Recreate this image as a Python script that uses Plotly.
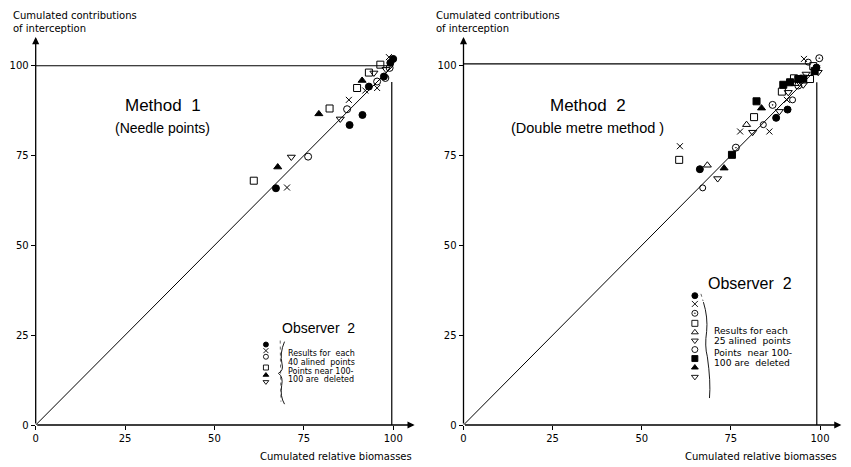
import plotly.graph_objects as go

# ---------------- data ----------------
tick_vals = [0, 25, 50, 75, 100]
tick_text = ["0", "25", "50", "75", "100"]

# Method 1 (needle points), observer 2
m1_filled_circle_x = [67.2, 87.8, 91.4, 93.2, 97.4, 99.2, 100.0]
m1_filled_circle_y = [65.9, 83.5, 86.3, 94.2, 97.0, 100.8, 101.9]
m1_cross_x = [70.3, 87.6, 92.2, 95.5, 98.8]
m1_cross_y = [66.1, 90.5, 93.1, 93.8, 102.4]
m1_open_circle_x = [76.2, 87.1, 95.5, 97.8, 99.0]
m1_open_circle_y = [74.7, 87.9, 95.6, 96.6, 99.4]
m1_square_x = [61.0, 82.2, 89.9, 93.2, 96.4]
m1_square_y = [68.0, 88.1, 93.8, 98.1, 100.3]
m1_filled_tri_x = [67.7, 79.2, 91.3]
m1_filled_tri_y = [71.8, 86.6, 95.9]
m1_down_tri_x = [71.5, 85.2, 94.6, 98.0]
m1_down_tri_y = [74.6, 85.2, 98.0, 99.0]

# Method 2 (double metre method), observer 2
m2_filled_circle_x = [66.3, 87.7, 90.9, 99.0]
m2_filled_circle_y = [71.2, 85.5, 87.8, 99.5]
m2_cross_x = [60.7, 77.6, 85.8, 90.7, 95.5]
m2_cross_y = [77.6, 81.7, 81.7, 90.5, 101.9]
m2_dot_circle_x = [76.4, 86.7, 93.9, 99.8]
m2_dot_circle_y = [77.2, 89.1, 94.5, 102.1]
m2_square_x = [60.5, 81.5, 89.3, 92.7, 97.2, 98.1]
m2_square_y = [73.8, 85.7, 92.8, 96.5, 96.3, 99.9]
m2_up_tri_x = [68.4, 79.4, 93.0]
m2_up_tri_y = [72.3, 83.6, 95.0]
m2_down_tri_a_x = [81.1, 88.6, 91.1, 95.3]
m2_down_tri_a_y = [81.5, 87.3, 92.6, 94.7]
m2_open_circle_x = [67.1, 84.1, 92.3, 96.7]
m2_open_circle_y = [66.0, 83.6, 90.5, 101.0]
m2_filled_square_x = [75.3, 82.2, 89.7, 91.6, 93.9, 95.3, 98.5]
m2_filled_square_y = [75.2, 90.1, 94.7, 95.4, 96.3, 96.4, 98.5]
m2_filled_tri_x = [73.1, 83.6]
m2_filled_tri_y = [71.5, 88.2]
m2_down_tri_b_x = [71.3, 96.1, 99.5]
m2_down_tri_b_y = [68.6, 97.7, 98.2]

# 1:1 reference line
diag_x = [0, 100]
diag_y = [0, 100]

# key (legend) symbols of each panel
key1_symbols = ["circle", "x-thin-open", "circle-open", "square-open",
                "triangle-up", "triangle-down-open"]
key2_symbols = ["circle", "x-thin-open", "circle-open-dot", "square-open",
                "triangle-up-open", "triangle-down-open", "circle-open", "square",
                "triangle-up", "triangle-down-open"]
key1_lines = ["Results for  each", "40 alined  points", "Points near 100-", "100 are  deleted"]
key2_lines = ["Results for each", "25 alined  points", "Points  near 100-", "100 are  deleted"]

FONT = "DejaVu Sans"
TFONT = "Liberation Sans"
INK = "black"

fig = go.Figure()


def add_series(xs, ys, symbol, ax, size=7):
    fig.add_trace(go.Scatter(
        x=xs, y=ys, mode="markers", xaxis=ax[0], yaxis=ax[1],
        marker=dict(symbol=symbol, size=size, color=INK,
                    line=dict(color=INK, width=1)),
        showlegend=False, hoverinfo="skip"))


A1 = ("x", "y")
A2 = ("x2", "y2")

for A in (A1, A2):
    fig.add_trace(go.Scatter(x=diag_x, y=diag_y, mode="lines", xaxis=A[0], yaxis=A[1],
                             line=dict(color=INK, width=1), showlegend=False,
                             hoverinfo="skip"))

add_series(m1_filled_circle_x, m1_filled_circle_y, "circle", A1)
add_series(m1_cross_x, m1_cross_y, "x-thin-open", A1, 6)
add_series(m1_open_circle_x, m1_open_circle_y, "circle-open", A1)
add_series(m1_square_x, m1_square_y, "square-open", A1)
add_series(m1_filled_tri_x, m1_filled_tri_y, "triangle-up", A1)
add_series(m1_down_tri_x, m1_down_tri_y, "triangle-down-open", A1)

add_series(m2_filled_circle_x, m2_filled_circle_y, "circle", A2)
add_series(m2_cross_x, m2_cross_y, "x-thin-open", A2, 6)
add_series(m2_dot_circle_x, m2_dot_circle_y, "circle-open-dot", A2)
add_series(m2_square_x, m2_square_y, "square-open", A2)
add_series(m2_up_tri_x, m2_up_tri_y, "triangle-up-open", A2)
add_series(m2_down_tri_a_x, m2_down_tri_a_y, "triangle-down-open", A2)
add_series(m2_open_circle_x, m2_open_circle_y, "circle-open", A2, 6)
add_series(m2_filled_square_x, m2_filled_square_y, "square", A2)
add_series(m2_filled_tri_x, m2_filled_tri_y, "triangle-up", A2)
add_series(m2_down_tri_b_x, m2_down_tri_b_y, "triangle-down-open", A2)

# key markers (stacked column)
key1_y = [22.4, 20.7, 19.0, 16.0, 13.9, 12.0]
fig.add_trace(go.Scatter(x=[64.4] * len(key1_symbols), y=key1_y, mode="markers",
                         xaxis="x", yaxis="y",
                         marker=dict(symbol=key1_symbols, size=5, color=INK,
                                     line=dict(color=INK, width=0.9)),
                         showlegend=False, hoverinfo="skip"))
key2_y = [36.0, 33.7, 31.1, 28.3, 25.8, 23.5, 21.0, 18.5, 16.0, 13.4]
fig.add_trace(go.Scatter(x=[64.9] * len(key2_symbols), y=key2_y, mode="markers",
                         xaxis="x2", yaxis="y2",
                         marker=dict(symbol=key2_symbols, size=6, color=INK,
                                     line=dict(color=INK, width=0.9)),
                         showlegend=False, hoverinfo="skip"))

annotations = []
shapes = []


def txt(x, y, s, size, xref, yref, xanchor="center", yanchor="middle", family=FONT):
    annotations.append(dict(x=x, y=y, xref=xref, yref=yref, text=s, showarrow=False,
                            xanchor=xanchor, yanchor=yanchor, borderpad=0,
                            font=dict(family=family, size=size, color=INK)))


for xr, yr in (("x", "y"), ("x2", "y2")):
    # axis arrows
    annotations.append(dict(x=106, y=0, ax=0, ay=0, xref=xr, yref=yr, axref=xr, ayref=yr,
                            showarrow=True, arrowhead=2, arrowsize=1.1, arrowwidth=1.3,
                            arrowcolor=INK, text=""))
    annotations.append(dict(x=0, y=108, ax=0, ay=0, xref=xr, yref=yr, axref=xr, ayref=yr,
                            showarrow=True, arrowhead=2, arrowsize=1.1, arrowwidth=1.3,
                            arrowcolor=INK, text=""))

# frame lines at 100
shapes.append(dict(type="line", xref="x", yref="y", x0=0, y0=100, x1=100, y1=100,
                   line=dict(color=INK, width=1.2)))
shapes.append(dict(type="line", xref="x", yref="y", x0=99.6, y0=95.5, x1=99.6, y1=0,
                   line=dict(color=INK, width=1.2)))
shapes.append(dict(type="line", xref="x2", yref="y2", x0=0, y0=100.5, x1=97, y1=100.5,
                   line=dict(color=INK, width=1.2)))
shapes.append(dict(type="line", xref="x2", yref="y2", x0=99.1, y0=95.4, x1=99.1, y1=0,
                   line=dict(color=INK, width=1.2)))

# titles
txt(35.5, 88.9, "Method  1", 17, "x", "y", family=TFONT)
txt(35.5, 82.6, "(Needle points)", 14, "x", "y", family=TFONT)
txt(34.9, 88.9, "Method  2", 17, "x2", "y2", family=TFONT)
txt(34.9, 82.8, "(Double metre method )", 14.5, "x2", "y2", family=TFONT)

# axis titles
txt(11.7 / 851, 1 - 15 / 467, "Cumulated contributions", 10, "paper", "paper", "left")
txt(11.7 / 851, 1 - 28 / 467, "of interception", 10, "paper", "paper", "left")
txt(435 / 851, 1 - 15 / 467, "Cumulated contributions", 10, "paper", "paper", "left")
txt(435 / 851, 1 - 28 / 467, "of interception", 10, "paper", "paper", "left")
txt(413.3 / 851, 1 - 456.7 / 467, "Cumulated relative biomasses", 10, "paper", "paper", "right")
txt(838 / 851, 1 - 456.7 / 467, "Cumulated relative biomasses", 10, "paper", "paper", "right")

# key, method 1
txt(79.0, 26.9, "Observer  2", 14, "x", "y", family=TFONT)
for s, ly in zip(key1_lines, [19.9, 17.5, 15.0, 12.6]):
    txt(70.4, ly, s, 8, "x", "y", "left")
shapes.append(dict(type="path", xref="x", yref="y",
                   path="M 69.6 23.2 Q 68.2 20 68.9 17 Q 69.4 15.2 67.9 14.4 "
                        "Q 69.3 13.4 68.8 11 Q 68.3 8 69.6 5.8",
                   line=dict(color=INK, width=0.9)))
shapes.append(dict(type="line", xref="x", yref="y", x0=68.4, y0=23.5, x1=68.6, y1=6.5,
                   line=dict(color=INK, width=0.6, dash="dot")))

# key, method 2
txt(80.4, 39.3, "Observer  2", 16, "x2", "y2", family=TFONT)
for s, ly in zip(key2_lines, [26.3, 23.4, 20.3, 17.5]):
    txt(70.1, ly, s, 9.2, "x2", "y2", "left")
shapes.append(dict(type="path", xref="x2", yref="y2",
                   path="M 67.3 34.2 Q 68.6 30 68.2 26 Q 67.6 22 68.4 19 "
                        "Q 69.4 12 69.0 7.5",
                   line=dict(color=INK, width=0.9)))
shapes.append(dict(type="line", xref="x2", yref="y2", x0=66.6, y0=36.5, x1=67.2, y1=34.5,
                   line=dict(color=INK, width=0.6, dash="dot")))

axis_common = dict(range=[0, 106], showgrid=False, zeroline=False, showline=False,
                   ticks="outside", ticklen=4, tickwidth=1, tickcolor=INK,
                   tickvals=tick_vals, ticktext=tick_text, automargin=False,
                   tickfont=dict(family=FONT, size=10, color=INK), fixedrange=True)
yaxis_common = dict(axis_common)
yaxis_common["range"] = [0, 108]

y_dom = [42 / 467, (467 - 37) / 467]

fig.update_layout(
    width=851, height=467,
    margin=dict(l=0, r=0, t=0, b=0, pad=0, autoexpand=False),
    paper_bgcolor="white", plot_bgcolor="white",
    xaxis=dict(axis_common, domain=[35.7 / 851, (35.7 + 106 * 3.575) / 851], anchor="y"),
    yaxis=dict(yaxis_common, domain=y_dom, anchor="x"),
    xaxis2=dict(axis_common, domain=[463.5 / 851, (463.5 + 106 * 3.565) / 851], anchor="y2"),
    yaxis2=dict(yaxis_common, domain=y_dom, anchor="x2"),
    annotations=annotations,
    shapes=shapes,
    showlegend=False,
)

fig.write_html("out.html",
               config={"displayModeBar": False, "staticPlot": True},
               post_script="document.body.style.margin='0px';"
                           "document.body.style.overflow='hidden';")
